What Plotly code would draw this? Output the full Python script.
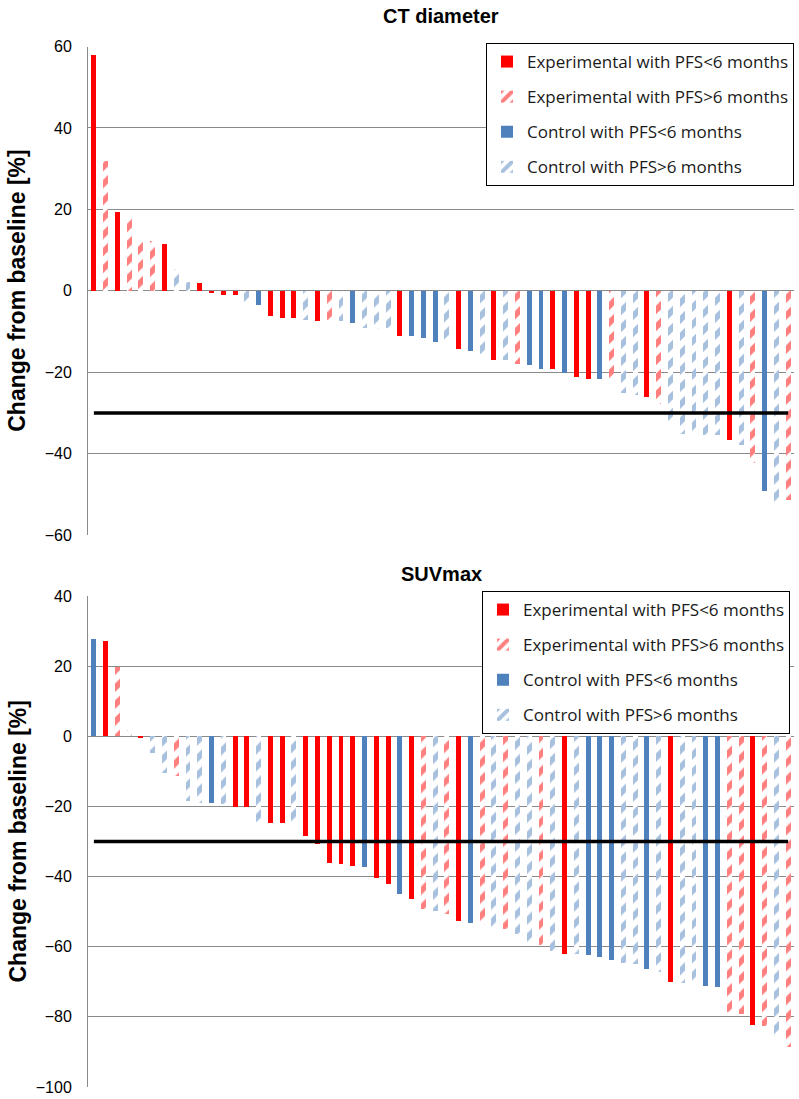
import plotly.graph_objects as go

# ---------------- data ----------------
# group codes: ES = Experimental PFS<6 (solid red), EH = Experimental PFS>6 (hatched red)
#              CS = Control PFS<6 (solid blue),     CH = Control PFS>6 (hatched blue)
ct_groups = ["ES", "EH", "ES", "EH", "EH", "EH", "ES", "CH", "CH", "ES",
             "ES", "ES", "ES", "CH", "CS", "ES", "ES", "ES", "CH", "ES",
             "EH", "CH", "CS", "CH", "CH", "CH", "ES", "CS", "CS", "CS",
             "CH", "ES", "CS", "CH", "ES", "CH", "EH", "CS", "CS", "ES",
             "CS", "ES", "ES", "CS", "EH", "CH", "CH", "ES", "EH", "CH",
             "CH", "CH", "CH", "CH", "ES", "CH", "EH", "CS", "CH", "EH"]
ct_values = [58.1, 32.0, 19.5, 18.5, 13.1, 12.3, 11.7, 5.4, 2.2, 2.0,
             -0.2, -0.8, -0.9, -2.9, -3.4, -6.0, -6.5, -6.6, -7.0, -7.2,
             -7.1, -7.3, -7.8, -9.0, -9.3, -9.0, -11.0, -11.1, -11.6, -12.5,
             -12.7, -14.3, -14.6, -15.4, -16.8, -16.9, -17.9, -18.2, -19.0, -19.2,
             -20.2, -21.0, -21.5, -21.6, -21.7, -25.1, -25.6, -26.0, -27.6, -31.8,
             -35.0, -35.1, -35.2, -35.4, -36.6, -37.8, -42.3, -49.0, -51.7, -51.3]

suv_groups = ["CS", "ES", "EH", "CH", "ES", "CH", "CH", "EH", "CH", "CH",
              "CS", "CH", "ES", "ES", "CH", "ES", "ES", "CH", "ES", "ES",
              "ES", "ES", "ES", "CS", "ES", "ES", "CS", "ES", "EH", "CH",
              "EH", "ES", "CS", "EH", "CH", "EH", "CH", "CH", "EH", "CH",
              "ES", "CH", "CS", "CS", "CS", "CH", "CH", "CS", "CH", "ES",
              "CH", "CH", "CS", "CS", "EH", "EH", "ES", "EH", "CH", "EH"]
suv_values = [27.7, 27.2, 19.7, 1.9, -0.6, -4.7, -10.4, -11.3, -18.5, -18.9,
              -19.1, -19.3, -20.1, -20.2, -24.4, -24.7, -24.8, -24.9, -28.3, -30.8,
              -36.0, -36.5, -37.0, -37.4, -40.3, -42.0, -45.1, -46.5, -49.3, -49.8,
              -50.6, -52.6, -53.1, -53.9, -54.5, -55.0, -56.5, -59.3, -59.6, -61.2,
              -62.1, -62.2, -62.4, -62.9, -63.7, -64.5, -65.0, -66.4, -67.2, -70.0,
              -70.3, -70.8, -71.3, -71.6, -78.7, -79.2, -82.3, -82.5, -85.3, -88.7]

group_names = {
    "ES": "Experimental with PFS<6 months",
    "EH": "Experimental with PFS>6 months",
    "CS": "Control with PFS<6 months",
    "CH": "Control with PFS>6 months",
}
group_order = ["ES", "EH", "CS", "CH"]

threshold = -30
ct_ticks = [60, 40, 20, 0, -20, -40, -60]
suv_ticks = [40, 20, 0, -20, -40, -60, -80, -100]

# ---------------- styling ----------------
RED = "#FF0000"
BLUE = "#4F81BD"
GRID = "#8A8A8A"
W, H = 799, 1099
ML, MR = 88, 5
PW = W - ML - MR

def fx(ref_x):               # page pixel x -> paper fraction
    return (ref_x - ML) / PW

def fy(ref_y):               # page pixel y -> paper fraction
    return 1 - ref_y / H

def style(code):
    color = RED if code[0] == "E" else BLUE
    if code[1] == "S":
        return dict(color=color, line=dict(width=0))
    return dict(color="white", line=dict(width=0),
                pattern=dict(shape="/", fgcolor=color, bgcolor="white",
                             size=12, solidity=0.5, fillmode="overlay"))

fig = go.Figure()

def add_panel(values, groups, xa, ya, legend):
    xs = list(range(1, len(values) + 1))
    for code in group_order:
        px = [x for x, g in zip(xs, groups) if g == code]
        py_ = [v for v, g in zip(values, groups) if g == code]
        fig.add_trace(go.Bar(
            x=px, y=py_, name=group_names[code], marker=style(code),
            width=0.42, xaxis=xa, yaxis=ya, legend=legend,
            legendgroup=legend + code, hoverinfo="x+y"))
    fig.add_trace(go.Scatter(
        x=[1, len(values)], y=[threshold, threshold], mode="lines",
        line=dict(color="black", width=3.5), xaxis=xa, yaxis=ya,
        showlegend=False, hoverinfo="skip"))

add_panel(ct_values, ct_groups, "x", "y", "legend")
add_panel(suv_values, suv_groups, "x2", "y2", "legend2")

axis_font = dict(family="Liberation Sans, Arial, sans-serif", size=16, color="black")
legend_font = dict(family="Open Sans, sans-serif", size=17, color="#1a1a1a")

common_x = dict(range=[0.5, 60.5], showticklabels=False, showgrid=False,
                zeroline=False, ticks="", showline=False, fixedrange=True,
                automargin=False)
common_y = dict(showgrid=True, gridcolor=GRID, gridwidth=1, zeroline=False,
                showline=True, linecolor=GRID, linewidth=1, ticks="",
                ticklabelstandoff=12, tickfont=axis_font, automargin=False)
fig.update_layout(
    width=W, height=H,
    margin=dict(l=ML, r=MR, t=0, b=0, autoexpand=False),
    paper_bgcolor="white", plot_bgcolor="white",
    barmode="overlay", bargap=0,
    font=axis_font,
    xaxis=dict(domain=[0, 1], anchor="y", **common_x),
    xaxis2=dict(domain=[0, 1], anchor="y2", **common_x),
    yaxis=dict(domain=[fy(535), fy(46.5)], range=[-60, 60], tickvals=ct_ticks, **common_y),
    yaxis2=dict(domain=[fy(1087), fy(596)], range=[-100, 40], tickvals=suv_ticks, **common_y),
    legend=dict(x=fx(486), y=fy(43), xanchor="left", yanchor="top",
                bgcolor="white", bordercolor="black", borderwidth=1,
                font=legend_font, tracegroupgap=10, itemwidth=30),
    legend2=dict(x=fx(482), y=fy(591), xanchor="left", yanchor="top",
                 bgcolor="white", bordercolor="black", borderwidth=1,
                 font=legend_font, tracegroupgap=10, itemwidth=30),
    showlegend=True,
)

title_font = dict(family="Liberation Sans, Arial, sans-serif", size=20, color="black")
ytitle_font = dict(family="Liberation Sans, Arial, sans-serif", size=23, color="black")
fig.add_annotation(text="<b>CT diameter</b>", xref="x domain", yref="paper",
                   x=0.5, y=fy(16), showarrow=False, font=title_font, yanchor="middle")
fig.add_annotation(text="<b>SUVmax</b>", xref="x2 domain", yref="paper",
                   x=0.5, y=fy(574), showarrow=False, font=title_font, yanchor="middle")
for yref in ["y domain", "y2 domain"]:
    fig.add_annotation(text="<b>Change from baseline [%]</b>", xref="paper", yref=yref,
                       x=fx(17), y=0.5, showarrow=False,
                       textangle=-90, font=ytitle_font, xanchor="center", yanchor="middle")

fig.write_html("out.html",
               config={"displayModeBar": False},
               post_script="document.body.style.margin='0px';")
